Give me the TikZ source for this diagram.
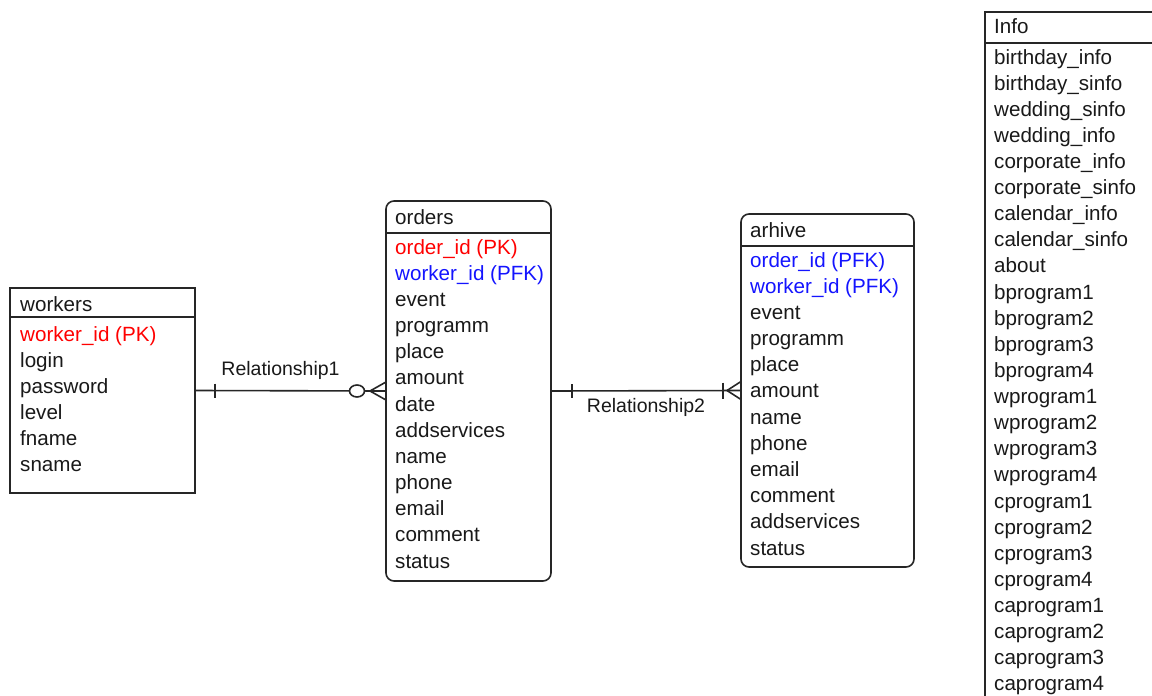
\documentclass[tikz,border=0pt]{standalone}
\usepackage{fontspec}
\setmainfont{Liberation Sans}
\usetikzlibrary{calc}
\definecolor{pkc}{RGB}{255,0,0}
\definecolor{fkc}{RGB}{20,20,255}
\definecolor{txt}{RGB}{25,25,25}
\begin{document}
\begin{tikzpicture}[x=1pt,y=-1pt,
  tbl/.style={draw=black!85, line width=1.6pt, inner sep=0pt, outer sep=0pt, fill=white},
  rtbl/.style={tbl, rounded corners=8pt},
  fld/.style={anchor=base west, inner sep=0pt, font=\fontsize{20.6}{24}\selectfont, text=txt},
  pkf/.style={fld, text=pkc},
  fkf/.style={fld, text=fkc},
  lbl/.style={font=\fontsize{19.5}{24}\selectfont, text=txt, inner sep=0pt},
  sep/.style={draw=black!85, line width=1.6pt},
  rel/.style={draw=black!85, line width=1.6pt}]
\useasboundingbox (0,0) rectangle (1152,696);
\fill[white] (0,0) rectangle (1152,696);
\clip (0,0) rectangle (1152,696);

% workers
\node[tbl, minimum width=185pt, minimum height=205pt, anchor=north west] (workers) at (10,288) {};
\draw[sep] (workers.west |- 0,317) -- (workers.east |- 0,317);
\node[fld] (wt) at (20,311) {workers};
\node[pkf] (w1) at (20,341) {worker\_id (PK)};
\foreach \t [count=\i] in {login,password,level,fname,sname}
  \node[fld] (w\i x) at (20,{341+\i*26}) {\t};

% orders
\node[rtbl, minimum width=165pt, minimum height=380pt, anchor=north west] (orders) at (386,201) {};
\draw[sep] (orders.west |- 0,233) -- (orders.east |- 0,233);
\node[fld] (ot) at (395,224) {orders};
\node[pkf] (o1) at (395,254) {order\_id (PK)};
\node[fkf] (o2) at (395,280.2) {worker\_id (PFK)};
\foreach \t [count=\i] in {event,programm,place,amount,date,addservices,name,phone,email,comment,status}
  \node[fld] (o\i x) at (395,{280.2+\i*26.17}) {\t};

% arhive
\node[rtbl, minimum width=173pt, minimum height=353pt, anchor=north west] (arhive) at (741,214) {};
\draw[sep] (arhive.west |- 0,246) -- (arhive.east |- 0,246);
\node[fld] (at) at (750,237) {arhive};
\node[fkf] (a1) at (750,267) {order\_id (PFK)};
\node[fkf] (a2) at (750,293.2) {worker\_id (PFK)};
\foreach \t [count=\i] in {event,programm,place,amount,name,phone,email,comment,addservices,status}
  \node[fld] (a\i x) at (750,{293.2+\i*26.18}) {\t};

% Info
\node[tbl, minimum width=200pt, minimum height=720pt, anchor=north west] (info) at (985,12) {};
\draw[sep] (info.west |- 0,43) -- ([xshift=20pt]info.east |- 0,43);
\node[fld] (it) at (994,34) {Info};
\foreach \t [count=\i from 0] in {birthday\_info,birthday\_sinfo,wedding\_sinfo,wedding\_info,corporate\_info,corporate\_sinfo,calendar\_info,calendar\_sinfo,about,bprogram1,bprogram2,bprogram3,bprogram4,wprogram1,wprogram2,wprogram3,wprogram4,cprogram1,cprogram2,cprogram3,cprogram4,caprogram1,caprogram2,caprogram3,caprogram4}
  \node[fld] (i\i x) at (994,{64+\i*26.12}) {\t};

% Relationship1
\draw[rel] (workers.east) -- (orders.west)
  node[pos=0.5, above=10pt, xshift=-10pt, lbl] (r1) {Relationship1};
\draw[rel] ($(workers.east)+(20,-7)$) -- ($(workers.east)+(20,7)$);
\draw[rel, fill=white] ($(orders.west)+(-29,0)$) ellipse [x radius=7.5pt, y radius=6pt];
\draw[rel] ($(orders.west)+(-16,0)$) -- ($(orders.west)+(0,-9)$);
\draw[rel] ($(orders.west)+(-16,0)$) -- ($(orders.west)+(0,9)$);

% Relationship2
\draw[rel] (orders.east) -- (arhive.west)
  node[pos=0.5, below=7pt, lbl] (r2) {Relationship2};
\draw[rel] ($(orders.east)+(21,-7)$) -- ($(orders.east)+(21,7)$);
\draw[rel] ($(arhive.west)+(-18,-8)$) -- ($(arhive.west)+(-18,8)$);
\draw[rel] ($(arhive.west)+(-14,0)$) -- ($(arhive.west)+(0,-9)$);
\draw[rel] ($(arhive.west)+(-14,0)$) -- ($(arhive.west)+(0,9)$);
\end{tikzpicture}
\end{document}
